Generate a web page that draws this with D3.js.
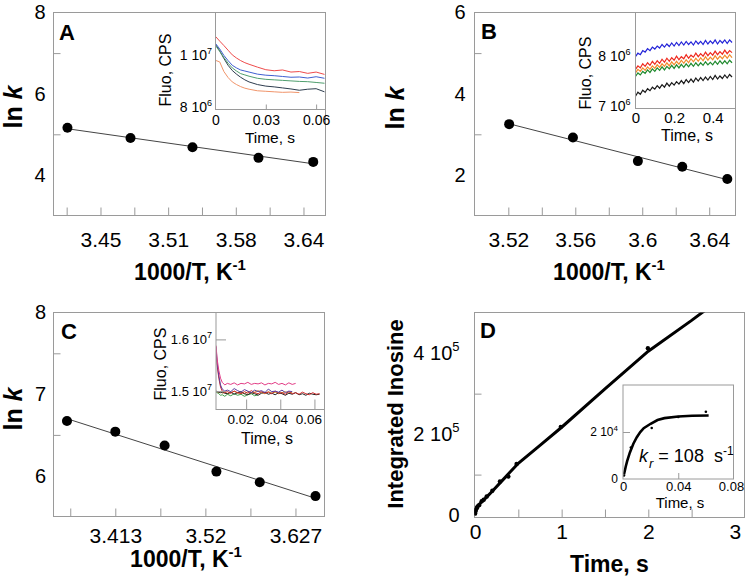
<!DOCTYPE html>
<html><head><meta charset="utf-8">
<script src="https://cdn.jsdelivr.net/npm/d3@7"></script>
<style>
body{margin:0;background:#fff;}
svg{display:block;}
text{font-family:"Liberation Sans",Arial,Helvetica,sans-serif;fill:#000;white-space:pre;}
</style></head><body>
<svg id="c" width="745" height="582"></svg>
<script>
// ---------- Panel A ----------
const A_invT = [3.4165, 3.4766, 3.5357, 3.5986, 3.6508];
const A_lnk  = [5.16, 4.91, 4.68, 4.42, 4.32];
const A_xMajor = [3.448, 3.5125, 3.577, 3.6415];
const A_xLabels = ["3.45", "3.51", "3.58", "3.64"];
const A_xMinor = [3.41575, 3.48025, 3.54475, 3.60925];
const A_yMajor = [4, 6, 8];
const A_yMinor = [5, 7];
// inset A (fluorescence, millions CPS)
const A_inTime = [0, 0.0025, 0.005, 0.0075, 0.01, 0.0125, 0.015, 0.0175, 0.02, 0.025, 0.03, 0.035, 0.04, 0.045, 0.05, 0.055, 0.06, 0.065];
const A_inRed    = [10.73, 10.55, 10.38, 10.20, 10.02, 9.90, 9.80, 9.72, 9.66, 9.55, 9.45, 9.41, 9.44, 9.36, 9.38, 9.31, 9.36, 9.27];
const A_inBlue   = [10.46, 10.25, 10.00, 9.80, 9.62, 9.52, 9.44, 9.40, 9.36, 9.28, 9.24, 9.22, 9.19, 9.16, 9.17, 9.13, 9.18, 9.12];
const A_inGreen  = [10.38, 10.15, 9.92, 9.70, 9.52, 9.40, 9.30, 9.25, 9.20, 9.12, 9.08, 9.06, 9.04, 9.02, 9.00, 8.99, 8.96, 8.93];
const A_inBlack  = [10.42, 10.18, 9.88, 9.62, 9.42, 9.28, 9.16, 9.06, 8.98, 8.88, 8.82, 8.79, 8.75, 8.71, 8.66, 8.70, 8.72, 8.60];
const A_inOrange = [9.81, 9.75, 9.38, 9.15, 8.98, 8.88, 8.80, 8.74, 8.70, 8.64, 8.62, 8.60, 8.58, 8.59, 8.57];
const A_inYTicks = [8, 10];
const A_inYLabels = ["8 10^6", "1 10^7"];
const A_inXTicks = [0, 0.03, 0.06];
const A_inXLabels = ["0", "0.03", "0.06"];

// ---------- Panel B ----------
const B_invT = [3.5205, 3.5586, 3.5974, 3.6239, 3.6508];
const B_lnk  = [3.25, 2.92, 2.34, 2.20, 1.90];
const B_xMajor = [3.52, 3.56, 3.60, 3.64];
const B_xLabels = ["3.52", "3.56", "3.6", "3.64"];
const B_xMinor = [3.54, 3.58, 3.62];
const B_yMajor = [2, 4, 6];
const B_yMinor = [3, 5];
const B_inTime = [0,0.0125,0.025,0.0375,0.05,0.0625,0.075,0.0875,0.1,0.1125,0.125,0.1375,0.15,0.1625,0.175,0.1875,0.2,0.2125,0.225,0.2375,0.25,0.2625,0.275,0.2875,0.3,0.3125,0.325,0.3375,0.35,0.3625,0.375,0.3875,0.4,0.4125,0.425,0.4375,0.45,0.4625,0.475,0.4875,0.5];
const B_inBlue   = [7.98,8.05,8.02,8.10,8.07,8.14,8.10,8.17,8.13,8.19,8.15,8.22,8.17,8.23,8.18,8.25,8.19,8.26,8.20,8.27,8.21,8.28,8.22,8.27,8.21,8.29,8.23,8.28,8.22,8.30,8.23,8.29,8.24,8.31,8.23,8.30,8.25,8.31,8.24,8.31,8.26];
const B_inRed    = [7.73,7.80,7.76,7.84,7.79,7.86,7.81,7.89,7.83,7.90,7.85,7.93,7.87,7.95,7.89,7.96,7.91,7.99,7.92,7.98,7.94,8.02,7.95,8.01,7.97,8.05,7.98,8.04,7.99,8.07,8.00,8.06,8.01,8.09,8.02,8.08,8.03,8.11,8.04,8.10,8.06];
const B_inOrange = [7.66,7.73,7.69,7.76,7.71,7.78,7.73,7.80,7.75,7.82,7.77,7.84,7.79,7.86,7.80,7.88,7.82,7.89,7.83,7.91,7.85,7.92,7.86,7.94,7.88,7.95,7.89,7.96,7.90,7.98,7.91,7.97,7.92,8.00,7.93,7.99,7.94,8.01,7.95,8.02,7.96];
const B_inGreen  = [7.59,7.66,7.62,7.69,7.65,7.72,7.67,7.74,7.69,7.76,7.71,7.78,7.72,7.79,7.74,7.81,7.75,7.82,7.76,7.83,7.77,7.84,7.78,7.85,7.79,7.86,7.80,7.86,7.81,7.88,7.82,7.87,7.82,7.89,7.83,7.90,7.84,7.90,7.84,7.91,7.86];
const B_inBlack  = [7.20,7.28,7.24,7.32,7.28,7.35,7.31,7.38,7.34,7.41,7.36,7.43,7.38,7.46,7.40,7.47,7.42,7.49,7.44,7.51,7.45,7.53,7.47,7.54,7.48,7.56,7.50,7.57,7.51,7.58,7.52,7.59,7.53,7.61,7.54,7.60,7.55,7.62,7.56,7.63,7.58];
const B_inYTicks = [7, 8];
const B_inYLabels = ["7 10^6", "8 10^6"];
const B_inXTicks = [0, 0.2, 0.4];
const B_inXLabels = ["0", "0.2", "0.4"];

// ---------- Panel C ----------
const C_invT = [3.3556, 3.413, 3.4716, 3.5331, 3.5846, 3.6508];
const C_lnk  = [6.67, 6.54, 6.37, 6.05, 5.92, 5.75];
const C_xMajor = [3.413, 3.52, 3.627];
const C_xLabels = ["3.413", "3.52", "3.627"];
const C_xMinor = [3.3595, 3.4665, 3.5735];
const C_yMajor = [6, 7, 8];
const C_yMinor = [6.5, 7.5];
const C_inTime = [0.0024,0.003,0.004,0.005,0.006,0.0075,0.009,0.011,0.013,0.015,0.017,0.019,0.021,0.023,0.025,0.027,0.029,0.031,0.033,0.035,0.037,0.039,0.041,0.043,0.045,0.047,0.049,0.051,0.053,0.055,0.057,0.059,0.061,0.063];
const C_inPink   = [15.88,15.62,15.40,15.25,15.17,15.12,15.15,15.13,15.16,15.12,15.15,15.14,15.17,15.13,15.15,15.14,15.16,15.12,15.15,15.14,15.17,15.13,15.15,15.12,15.16,15.13,15.15];
const C_inPurple = [15.86,15.55,15.30,15.12,15.04,15.00,15.02,14.99,15.05,15.01,14.98,15.03,15.00,14.97,15.02,14.99,15.01,14.97,15.04,14.99,15.00,14.98,15.02,14.97,15.00,14.99];
const C_inRed    = [15.80,15.50,15.25,15.08,15.00,14.97,14.99,14.96,15.00,14.97,14.95,14.99,14.96,15.01,14.97,14.95,14.99,14.96,14.98,14.95,15.00,14.96,14.97,14.94,14.99,14.95,14.97,14.94,14.98,14.95,14.93,14.97,14.94,14.95];
const C_inBlack  = [15.00,14.99,14.98,14.97,14.98,14.96,14.95,14.98,14.94,14.97,14.99,14.95,14.93,14.97,14.95,14.92,14.96,14.98,14.94,14.96,14.93,14.97,14.95,14.92,14.96,14.94,14.97,14.93,14.95,14.92,14.96,14.94,14.93,14.94];
const C_inGreen  = [14.98,14.97,14.95,14.92,14.93,14.90,14.94,14.91,14.95,14.92,14.94,14.90,14.93,14.95,14.91,14.93];
const C_inOrange = [15.00,14.99,14.97,14.99,14.96,14.98,14.95,14.97,15.00,14.96,14.98,14.95,14.99,14.96,14.98,15.01,14.97,14.95,14.99,14.96,14.98,14.95,14.97,14.99,14.96,14.98];
const C_inYTicks = [15, 16];
const C_inYLabels = ["1.5 10^7", "1.6 10^7"];
const C_inXTicks = [0.02, 0.04, 0.06];
const C_inXLabels = ["0.02", "0.04", "0.06"];

// ---------- Panel D ----------
const D_time = [0.002,0.005,0.01,0.02,0.03,0.05,0.077,0.1,0.135,0.2,0.288,0.385,0.48,0.99,1.995];
const D_inosine = [4000,9000,13000,17000,21000,25000,34000,38000,46000,60000,83000,95000,126000,218000,412000];
const D_fitTime = [0,0.002,0.005,0.01,0.02,0.04,0.07,0.1,0.15,0.2,0.3,0.4,0.5,0.75,1.0,1.5,2.0,2.5,2.7];
const D_fitVal  = [0,6000,11000,15000,20000,25000,31000,37000,48000,59000,82000,105000,128000,172000,217000,312000,405000,481000,513000];
const D_xMajor = [0, 1, 2, 3];
const D_xLabels = ["0", "1", "2", "3"];
const D_xMinor = [0.5, 1.5, 2.5];
const D_yMajor = [0, 200000, 400000];
const D_yLabels = ["0", "2 10^5", "4 10^5"];
const D_yMinor = [100000, 300000];
const D_inTime = [0.0007, 0.0057, 0.0208, 0.04, 0.06];
const D_inVal  = [1500, 13400, 21700, 26400, 28600];
const D_inFitTime = [0.0007,0.002,0.003,0.005,0.0075,0.01,0.0125,0.015,0.02,0.025,0.03,0.04,0.05,0.062];
const D_inFitVal  = [1900,5300,7600,11300,15000,17800,20000,21600,23500,25100,25900,26600,26900,27000];
const D_inXTicks = [0, 0.04, 0.08];
const D_inXLabels = ["0", "0.04", "0.08"];
const D_inYTicks = [0, 20000];
const D_inYLabels = ["0", "2 10^4"];

// ================= drawing =================
const svg = d3.select('#c');
const GRAY = '#9a9a9a';

function sup(sel, supSize, rise) {
  sel.each(function () {
    const s = d3.select(this), t = s.text();
    if (t.includes('^')) {
      const [a, b] = t.split('^');
      s.text(null);
      s.append('tspan').text(a);
      s.append('tspan').attr('font-size', supSize).attr('dy', -rise).text(b);
    }
  });
}

function frame(g, x0, y0, x1, y1, fill) {
  g.append('rect').attr('x', x0).attr('y', y0).attr('width', x1 - x0).attr('height', y1 - y0)
    .attr('fill', fill || 'none').attr('stroke', GRAY).attr('stroke-width', 1);
}

function xAxis(g, scale, yPos, major, labels, minor, o) {
  const vals = major.concat(minor);
  const ax = d3.axisBottom(scale).tickValues(vals).tickSizeInner(-o.tick).tickSizeOuter(0).tickPadding(o.pad)
    .tickFormat(d => { const i = major.indexOf(d); return i >= 0 ? labels[i] : ''; });
  const gg = g.append('g').attr('transform', `translate(0,${yPos})`).call(ax);
  gg.attr('font-family', null).attr('font-size', null);
  gg.select('.domain').remove();
  gg.selectAll('.tick line').attr('stroke', GRAY);
  if (o.noTick) gg.selectAll('.tick').filter(d => o.noTick.includes(d)).select('line').remove();
  gg.selectAll('.tick text').attr('font-size', o.fs).attr('fill', '#000').attr('dx', o.dx || 0);
  sup(gg.selectAll('.tick text'), o.sfs || 10, o.rise || 6);
  return gg;
}

function yAxis(g, scale, xPos, major, labels, minor, o) {
  const vals = major.concat(minor);
  const ax = d3.axisLeft(scale).tickValues(vals).tickSizeInner(-o.tick).tickSizeOuter(0).tickPadding(o.pad)
    .tickFormat(d => { const i = major.indexOf(d); return i >= 0 ? labels[i] : ''; });
  const gg = g.append('g').attr('transform', `translate(${xPos},0)`).call(ax);
  gg.attr('font-family', null).attr('font-size', null);
  gg.select('.domain').remove();
  gg.selectAll('.tick line').attr('stroke', GRAY);
  if (o.noTick) gg.selectAll('.tick').filter(d => o.noTick.includes(d)).select('line').remove();
  gg.selectAll('.tick text').attr('font-size', o.fs).attr('fill', '#000');
  sup(gg.selectAll('.tick text'), o.sfs || 10, o.rise || 6);
  return gg;
}

let clipId = 0;
function clip(g, x0, y0, x1, y1) {
  const id = 'clip' + (clipId++);
  svg.append('clipPath').attr('id', id).append('rect').attr('x', x0).attr('y', y0).attr('width', x1 - x0).attr('height', y1 - y0);
  return g.append('g').attr('clip-path', `url(#${id})`);
}

function lsq(xs, ys) {
  const mx = d3.mean(xs), my = d3.mean(ys);
  let sxy = 0, sxx = 0;
  xs.forEach((x, i) => { sxy += (x - mx) * (ys[i] - my); sxx += (x - mx) * (x - mx); });
  const b = sxy / sxx, a = my - b * mx;
  return x => a + b * x;
}

function arrPanel(c) {
  const g = svg.append('g');
  const x = d3.scaleLinear().domain(c.xDomain).range([c.x0, c.x1]);
  const y = d3.scaleLinear().domain(c.yDomain).range([c.y1, c.y0]);
  frame(g, c.x0, c.y0, c.x1, c.y1);
  xAxis(g, x, c.y1, c.xMajor, c.xLabels, c.xMinor, { tick: 8, pad: c.xPad, fs: 21 });
  yAxis(g, y, c.x0, c.yMajor, c.yMajor.map(String), c.yMinor, { tick: 7, pad: c.yPad, fs: 20, noTick: c.yMajor });
  const f = lsq(c.xs, c.ys);
  const xa = d3.min(c.xs), xb = d3.max(c.xs);
  g.append('path').attr('d', d3.line()([[x(xa), y(f(xa))], [x(xb), y(f(xb))]]))
    .attr('stroke', '#444').attr('stroke-width', 1).attr('fill', 'none');
  g.selectAll('circle.pt').data(c.xs).join('circle')
    .attr('cx', d => x(d)).attr('cy', (d, i) => y(c.ys[i])).attr('r', 5).attr('fill', '#000');
  g.append('text').attr('x', c.letterX).attr('y', c.letterY).attr('font-size', 22).attr('font-weight', 'bold').text(c.letter);
  const yt = g.append('text').attr('transform', `translate(${c.yTitleX},${c.yTitleY}) rotate(-90)`)
    .attr('text-anchor', 'middle').attr('font-size', 25).attr('font-weight', 'bold');
  yt.append('tspan').text('ln ');
  yt.append('tspan').attr('font-style', 'italic').text('k');
  const xt = g.append('text').attr('x', c.xTitleX).attr('y', c.xTitleY).attr('text-anchor', 'middle')
    .attr('font-size', 23).attr('font-weight', 'bold');
  xt.append('tspan').text('1000/T, K');
  xt.append('tspan').attr('font-size', 15).attr('dy', -10).text('-1');
  return g;
}

function inset(c) {
  const g = svg.append('g');
  const x = d3.scaleLinear().domain(c.xDomain).range([c.x0, c.x1]);
  const y = d3.scaleLinear().domain(c.yDomain).range([c.y1, c.y0]);
  g.append('rect').attr('x', c.x0).attr('y', c.y0).attr('width', c.x1 - c.x0).attr('height', c.y1 - c.y0).attr('fill', '#fff');
  const cg = clip(g, c.x0, c.y0, c.x1, c.y1);
  const line = d3.line().x(d => x(d[0])).y(d => y(d[1]));
  c.series.forEach(s => {
    const pts = s.v.map((v, i) => [c.t[i], v]);
    cg.append('path').attr('d', line(pts)).attr('fill', 'none').attr('stroke', s.color).attr('stroke-width', c.sw || 1);
  });
  frame(g, c.x0, c.y0, c.x1, c.y1);
  xAxis(g, x, c.y1, c.xTicks, c.xLabels, [], { tick: c.xTick || 0, pad: c.xPad, fs: c.xfs, dx: c.xdx, noTick: c.xNoTick || [] });
  yAxis(g, y, c.x0, c.yTicks, c.yLabels, [], { tick: c.yTick || 0, pad: c.yPad, fs: c.yfs, sfs: c.sfs, rise: c.rise, noTick: c.yNoTick || [] });
  g.append('text').attr('transform', `translate(${c.fluoX},${c.fluoY}) rotate(-90)`).attr('text-anchor', 'middle')
    .attr('font-size', 16).text('Fluo, CPS');
  g.append('text').attr('x', c.timeX).attr('y', c.timeY).attr('text-anchor', 'middle').attr('font-size', c.tfs || 16).text('Time, s');
  return g;
}

// ---- A ----
arrPanel({ x0: 53.5, x1: 325.5, y0: 12.5, y1: 215.5, xDomain: [3.4032, 3.6625], yDomain: [3, 8],
  xMajor: A_xMajor, xLabels: A_xLabels, xMinor: A_xMinor, yMajor: A_yMajor, yMinor: A_yMinor,
  xs: A_invT, ys: A_lnk, xPad: 17, yPad: 8, letter: 'A', letterX: 59, letterY: 40,
  yTitleX: 22, yTitleY: 107, xTitleX: 190, xTitleY: 280 });
inset({ x0: 215.5, x1: 325.5, y0: 12.5, y1: 109.5, xDomain: [0, 0.0656], yDomain: [7.92, 11.65],
  t: A_inTime, series: [
    { v: A_inOrange, color: '#f0946a' }, { v: A_inBlack, color: '#2e3d4f' }, { v: A_inGreen, color: '#4f9e6e' },
    { v: A_inBlue, color: '#3f5fd0' }, { v: A_inRed, color: '#ee4b4b' }],
  xTicks: A_inXTicks, xLabels: A_inXLabels, xTick: 5, xNoTick: [0], xPad: 6, xfs: 14,
  yTicks: A_inYTicks, yLabels: A_inYLabels, yPad: 3.5, yfs: 14, sfs: 9, rise: 6,
  fluoX: 171, fluoY: 70, timeX: 270, timeY: 142.5, tfs: 15.5 });

// ---- B ----
arrPanel({ x0: 474.5, x1: 735.5, y0: 12.5, y1: 215.5, xDomain: [3.4998, 3.6557], yDomain: [1, 6],
  xMajor: B_xMajor, xLabels: B_xLabels, xMinor: B_xMinor, yMajor: B_yMajor, yMinor: B_yMinor,
  xs: B_invT, ys: B_lnk, xPad: 17, yPad: 9, letter: 'B', letterX: 481, letterY: 38.5,
  yTitleX: 404, yTitleY: 108, xTitleX: 609, xTitleY: 280 });
inset({ x0: 635.5, x1: 735.5, y0: 12.5, y1: 108.5, xDomain: [0, 0.518], yDomain: [6.96, 8.85],
  t: B_inTime, sw: 1.2, series: [
    { v: B_inBlack, color: '#1a1a1a' }, { v: B_inGreen, color: '#1f8a2e' }, { v: B_inOrange, color: '#f28a2a' },
    { v: B_inRed, color: '#ee2a1e' }, { v: B_inBlue, color: '#2424d8' }],
  xTicks: B_inXTicks, xLabels: B_inXLabels, xTick: 0, xPad: 3.5, xfs: 15,
  yTicks: B_inYTicks, yLabels: B_inYLabels, yPad: 5, yfs: 14, sfs: 9, rise: 6,
  fluoX: 591, fluoY: 73, timeX: 687, timeY: 141 });

// ---- C ----
arrPanel({ x0: 53.5, x1: 324.5, y0: 312.5, y1: 516.5, xDomain: [3.3396, 3.6615], yDomain: [5.5, 8],
  xMajor: C_xMajor, xLabels: C_xLabels, xMinor: C_xMinor, yMajor: C_yMajor, yMinor: C_yMinor,
  xs: C_invT, ys: C_lnk, xPad: 12, yPad: 7.5, letter: 'C', letterX: 61, letterY: 339,
  yTitleX: 22, yTitleY: 409, xTitleX: 186, xTitleY: 567 });
inset({ x0: 216, x1: 324.5, y0: 312.5, y1: 409.5, xDomain: [0.00235, 0.0659], yDomain: [14.645, 16.52],
  t: C_inTime, series: [
    { v: C_inGreen, color: '#3f9f4a' }, { v: C_inOrange, color: '#c98a2c' }, { v: C_inBlack, color: '#222' },
    { v: C_inRed, color: '#cc2b2b' }, { v: C_inPurple, color: '#5a3c9e' }, { v: C_inPink, color: '#e23d86' }],
  xTicks: C_inXTicks, xLabels: C_inXLabels, xTick: 10, xPad: 4.5, xfs: 13.5, xdx: -6,
  yTicks: C_inYTicks, yLabels: C_inYLabels, yTick: 10, yPad: 4, yfs: 13, sfs: 9, rise: 6,
  fluoX: 166, fluoY: 364, timeX: 267, timeY: 444 });

// ---- D ----
(function () {
  const x0 = 474.5, x1 = 744.5, y0 = 312.5, y1 = 517.5;
  const g = svg.append('g');
  const x = d3.scaleLinear().domain([0, 3.11]).range([x0 + 0.5, x1]);
  const y = d3.scaleLinear().domain([-6000, 500500]).range([y1, y0]);
  frame(g, x0, y0, x1, y1);
  xAxis(g, x, y1, D_xMajor, D_xLabels, D_xMinor, { tick: 8, pad: 7, fs: 21, noTick: [0, 3] });
  yAxis(g, y, x0, D_yMajor, D_yLabels, D_yMinor, { tick: 7, pad: 15, fs: 20, sfs: 13, rise: 9, noTick: D_yMajor });
  const cg = clip(g, x0, y0, x1, y1);
  cg.append('path').attr('d', d3.line().x(d => x(d[0])).y(d => y(d[1]))(D_fitTime.map((t, i) => [t, D_fitVal[i]])))
    .attr('fill', 'none').attr('stroke', '#000').attr('stroke-width', 3);
  cg.selectAll('circle').data(D_time).join('circle').attr('cx', d => x(d)).attr('cy', (d, i) => y(D_inosine[i]))
    .attr('r', 2.2).attr('fill', '#000');
  g.append('text').attr('x', 480).attr('y', 338).attr('font-size', 22).attr('font-weight', 'bold').text('D');
  g.append('text').attr('transform', 'translate(403,414) rotate(-90)').attr('text-anchor', 'middle')
    .attr('font-size', 22).attr('font-weight', 'bold').text('Integrated Inosine');
  g.append('text').attr('x', 609.5).attr('y', 572).attr('text-anchor', 'middle').attr('font-size', 23)
    .attr('font-weight', 'bold').text('Time, s');

  // inset D
  const ix0 = 623, ix1 = 733.5, iy0 = 385, iy1 = 479;
  const xi = d3.scaleLinear().domain([0, 0.08]).range([ix0, ix1]);
  const yi = d3.scaleLinear().domain([0, 40000]).range([iy1, iy0]);
  g.append('rect').attr('x', ix0).attr('y', iy0).attr('width', ix1 - ix0).attr('height', iy1 - iy0).attr('fill', '#fff');
  const ic = clip(g, ix0, iy0, ix1, iy1);
  ic.append('path').attr('d', d3.line().x(d => xi(d[0])).y(d => yi(d[1]))(D_inFitTime.map((t, i) => [t, D_inFitVal[i]])))
    .attr('fill', 'none').attr('stroke', '#000').attr('stroke-width', 2.6);
  ic.selectAll('circle').data(D_inTime).join('circle').attr('cx', d => xi(d)).attr('cy', (d, i) => yi(D_inVal[i]))
    .attr('r', 1.3).attr('fill', '#000');
  frame(g, ix0, iy0, ix1, iy1);
  const gxi = xAxis(g, xi, iy1, D_inXTicks, D_inXLabels, [], { tick: 6, pad: 2.8, fs: 13, noTick: [0, 0.08] });
  gxi.selectAll('.tick').filter(d => d === 0.08).select('text').attr('dx', -2.5);
  yAxis(g, yi, ix0, D_inYTicks, D_inYLabels, [], { tick: 7, pad: 5, fs: 12, sfs: 8, rise: 5, noTick: [0] });
  g.append('text').attr('x', 680).attr('y', 507.5).attr('text-anchor', 'middle').attr('font-size', 15).text('Time, s');
  const kt = g.append('text').attr('x', 639).attr('y', 462).attr('font-size', 18);
  kt.append('tspan').attr('font-style', 'italic').text('k');
  kt.append('tspan').attr('font-style', 'italic').attr('font-size', 13).attr('dx', 1).attr('dy', 6).text('r');
  kt.append('tspan').attr('dy', -6).text('\u00a0=\u00a0108\u00a0\u00a0s');
  kt.append('tspan').attr('font-size', 12).attr('dy', -7).text('-1');
})();
</script>
</body></html>
